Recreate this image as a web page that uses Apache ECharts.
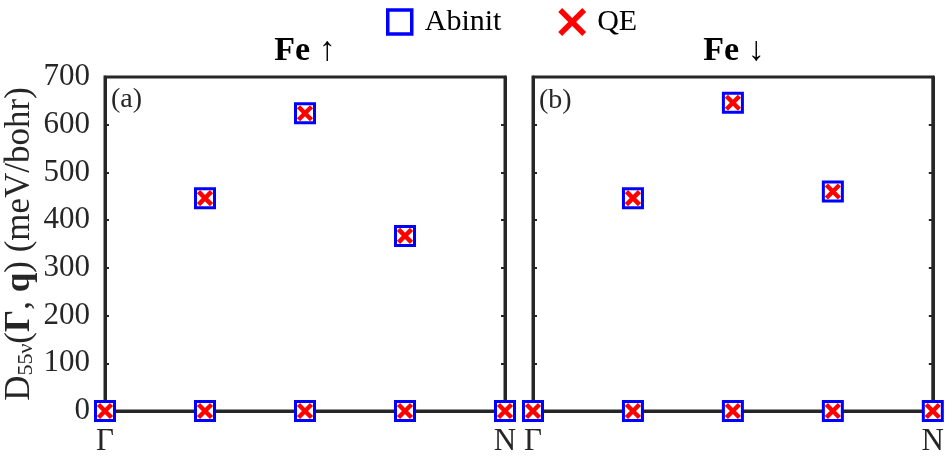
<!DOCTYPE html>
<html>
<head>
<meta charset="utf-8">
<script src="https://cdn.jsdelivr.net/npm/echarts@6/dist/echarts.min.js"></script>
<style>html,body{margin:0;padding:0;background:#fff}#c{width:947px;height:460px}</style>
</head>
<body>
<div id="c"></div>
<script>
// ---- data ----
const qPositions = [0, 1, 2, 3, 4];
const qTickLabels = ['Γ', '', '', '', 'N'];
const yTicks = [0, 100, 200, 300, 400, 500, 600, 700];
// Fe spin up, panel (a)
const upAbinitLow  = [0, 0, 0, 0, 0];
const upAbinitHigh = [null, 446, 624, 367, null];
const upQELow      = [0, 0, 0, 0, 0];
const upQEHigh     = [null, 446, 624, 367, null];
// Fe spin down, panel (b)
const dnAbinitLow  = [0, 0, 0, 0, 0];
const dnAbinitHigh = [null, 446, 646, 460, null];
const dnQELow      = [0, 0, 0, 0, 0];
const dnQEHigh     = [null, 446, 646, 460, null];

const SERIF = '"Liberation Serif","DejaVu Serif",serif';
const AX = '#262626';
const yMin = yTicks[0], yMax = yTicks[yTicks.length - 1], yStep = yTicks[1] - yTicks[0];

function pts(...arrs) {
  const out = [];
  arrs.forEach(a => a.forEach((v, i) => { if (v !== null) out.push([qPositions[i], v]); }));
  return out;
}
const X_PATH = 'path://M0,0L10,10M10,0L0,10';

function abinit(data, gi) {
  return { name: 'Abinit', type: 'scatter', xAxisIndex: gi, yAxisIndex: gi * 2, clip: false, z: 3,
    symbol: 'rect', symbolSize: 19, data: data,
    itemStyle: { color: '#ffffff', borderColor: '#0000ff', borderWidth: 3, opacity: 1 } };
}
function qe(data, gi) {
  return { name: 'QE', type: 'scatter', xAxisIndex: gi, yAxisIndex: gi * 2, clip: false, z: 4,
    symbol: X_PATH, symbolSize: 13, data: data,
    itemStyle: { color: 'none', borderColor: '#ff0000', borderWidth: 4.5, opacity: 1 } };
}
function xAxis(gi) {
  return { type: 'value', gridIndex: gi, min: qPositions[0], max: qPositions[qPositions.length - 1], interval: 4,
    axisLine: { show: true, onZero: false, lineStyle: { color: AX, width: 3 } },
    axisTick: { show: false }, splitLine: { show: false },
    axisLabel: { margin: 15, color: AX, fontFamily: SERIF, fontSize: 31,
      formatter: v => qTickLabels[qPositions.indexOf(v)] || '' } };
}
function yAxis(gi, pos, labels) {
  return { type: 'value', gridIndex: gi, position: pos, min: yMin, max: yMax, interval: yStep,
    axisLine: { show: true, lineStyle: { color: AX, width: 3 } },
    axisTick: { show: true, inside: true, length: 4, lineStyle: { color: AX, width: 2 } },
    splitLine: { show: false },
    axisLabel: { show: labels, margin: 15, color: AX, fontFamily: SERIF, fontSize: 31 } };
}

const chart = echarts.init(document.getElementById('c'), null, { renderer: 'canvas' });
chart.setOption({
  animation: false,
  backgroundColor: '#ffffff',
  grid: [
    { left: 105, right: 442, top: 77, bottom: 49, show: true, borderColor: AX, borderWidth: 3 },
    { left: 533, right: 12, top: 77, bottom: 49, show: true, borderColor: AX, borderWidth: 3 }
  ],
  legend: {
    data: [
      { name: 'Abinit', itemStyle: { color: '#ffffff', borderColor: '#0000ff', borderWidth: 3.5 } },
      { name: 'QE', itemStyle: { color: 'none', borderColor: '#ff0000', borderWidth: 5.5 } }
    ],
    left: 381, top: 2, itemWidth: 24, itemHeight: 24, itemGap: 56,
    textStyle: { fontFamily: SERIF, fontSize: 30, color: '#000', padding: [0, 0, 0, 8] }
  },
  xAxis: [xAxis(0), xAxis(1)],
  yAxis: [
    Object.assign(yAxis(0, 'left', true), {
      name: '{m|D}{s|55ν}{m|(}{b|Γ}{m|, }{b|q}{m|) (meV/bohr)}',
      nameLocation: 'middle', nameRotate: 90, nameGap: 68,
      nameTextStyle: { rich: {
        m: { fontFamily: SERIF, fontSize: 35, color: AX, lineHeight: 34, verticalAlign: 'bottom' },
        b: { fontFamily: SERIF, fontSize: 35, fontWeight: 'bold', color: AX, lineHeight: 34, verticalAlign: 'bottom' },
        s: { fontFamily: SERIF, fontSize: 22, color: AX, lineHeight: 14, verticalAlign: 'bottom' }
      } }
    }),
    yAxis(0, 'right', false),
    yAxis(1, 'left', false),
    yAxis(1, 'right', false)
  ],
  series: [
    abinit(pts(upAbinitLow, upAbinitHigh), 0),
    qe(pts(upQELow, upQEHigh), 0),
    abinit(pts(dnAbinitLow, dnAbinitHigh), 1),
    qe(pts(dnQELow, dnQEHigh), 1)
  ],
  graphic: [
    { type: 'text', x: 305, y: 51, style: { text: 'Fe ↑', fill: '#000', font: 'bold 34px ' + SERIF, textAlign: 'center', textVerticalAlign: 'middle' } },
    { type: 'text', x: 734, y: 51, style: { text: 'Fe ↓', fill: '#000', font: 'bold 34px ' + SERIF, textAlign: 'center', textVerticalAlign: 'middle' } },
    { type: 'text', x: 111, y: 100, style: { text: '(a)', fill: AX, font: '28px ' + SERIF, textAlign: 'left', textVerticalAlign: 'middle' } },
    { type: 'text', x: 539, y: 101, style: { text: '(b)', fill: AX, font: '28px ' + SERIF, textAlign: 'left', textVerticalAlign: 'middle' } }
  ]
});
</script>
</body>
</html>
